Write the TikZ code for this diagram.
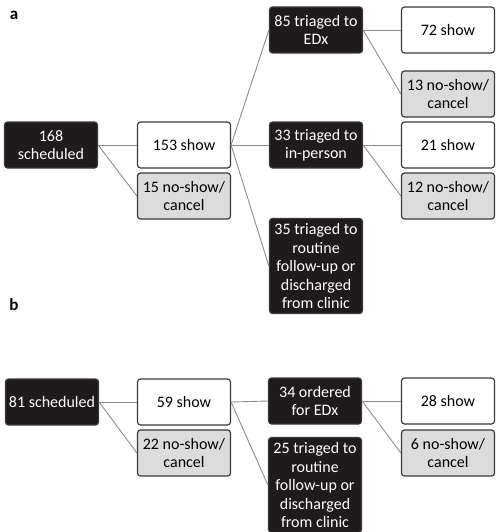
\documentclass[tikz,border=0pt]{standalone}
\usepackage{fontspec}
\setmainfont{Carlito}
\definecolor{boxdark}{HTML}{1F1B1C}
\definecolor{boxgray}{HTML}{DCDCDC}
\definecolor{linegray}{HTML}{8E8E8E}
\definecolor{rimgray}{HTML}{3A3A3A}
\tikzset{
  dark/.style={fill=boxdark,text=white},
  light/.style={fill=boxgray},
  plain/.style={fill=white},
  panel/.style={font=\bfseries\fontsize{17}{19}\selectfont,inner sep=0pt}
}
\begin{document}
\begin{tikzpicture}[x=1pt,y=-1pt]
        \useasboundingbox (0,0) rectangle (495,532);

        \node[panel,anchor=base] (la) at (14,20) {a};
        \node[panel,anchor=base] (lb) at (14,310) {b};

        \begin{scope}[every node/.style={draw=rimgray,line width=1.2pt,rounded corners=3pt,
            minimum width=93pt,minimum height=46pt,inner xsep=1pt,inner ysep=1pt,align=center,
            font=\fontsize{16}{18.5}\selectfont}]
          % panel a
          \node[dark]  (1)  at (51,145)  {168\\scheduled};
          \node[plain] (2)  at (184,145) {153 show};
          \node[light] (3)  at (184,196) {15 no-show/\\cancel};
          \node[dark]  (4)  at (316,30)  {85 triaged to\\EDx};
          \node[dark]  (5)  at (316,145) {33 triaged to\\in-person};
          \node[dark,minimum height=95pt] (6) at (316,266) {35 triaged to\\routine\\follow-up or\\discharged\\from clinic};
          \node[plain] (7)  at (448,30)  {72 show};
          \node[light] (8)  at (448,94)  {13 no-show/\\cancel};
          \node[plain] (9)  at (448,145) {21 show};
          \node[light] (10) at (448,196) {12 no-show/\\cancel};
          % panel b
          \node[dark]  (11) at (52,402)  {81 scheduled};
          \node[plain] (12) at (184,402) {59 show};
          \node[light] (13) at (184,453) {22 no-show/\\cancel};
          \node[dark]  (14) at (315,401) {34 ordered\\for EDx};
          \node[dark,minimum height=95pt] (15) at (315,485) {25 triaged to\\routine\\follow-up or\\discharged\\from clinic};
          \node[plain] (16) at (448,401) {28 show};
          \node[light] (17) at (448,453) {6 no-show/\\cancel};
        \end{scope}

        \begin{scope}[every edge/.style={draw=linegray,line width=0.9pt}]
          \path (1.east)  edge (2.west);
          \path (1.east)  edge (3.west);
          \path (2.east)  edge (4.west);
          \path (2.east)  edge (5.west);
          \path (2.east)  edge (6.west);
          \path (4.east)  edge (7.west);
          \path (4.east)  edge (8.west);
          \path (5.east)  edge (9.west);
          \path (5.east)  edge (10.west);
          \path (11.east) edge (12.west);
          \path (11.east) edge (13.west);
          \path (12.east) edge (14.west);
          \path (12.east) edge (15.west);
          \path (14.east) edge (16.west);
          \path (14.east) edge (17.west);
        \end{scope}

      \end{tikzpicture}
\end{document}
